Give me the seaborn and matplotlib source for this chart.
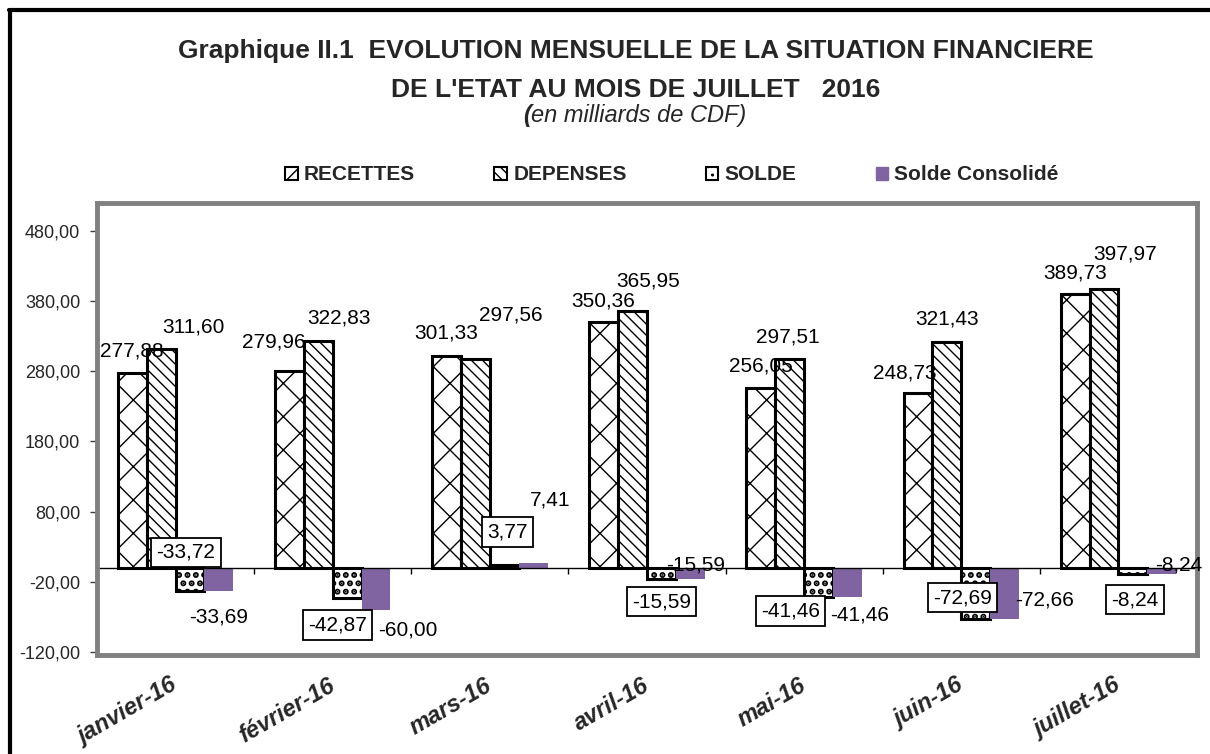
import numpy as np
import pandas as pd
import matplotlib
matplotlib.use("Agg")
import matplotlib.pyplot as plt
import seaborn as sns
from matplotlib.patches import Patch
from matplotlib.lines import Line2D
from matplotlib.font_manager import fontManager

# ---------------- data ----------------
mois = ["janvier-16", "février-16", "mars-16", "avril-16", "mai-16", "juin-16", "juillet-16"]
series = ["RECETTES", "DEPENSES", "SOLDE", "Solde Consolidé"]
recettes = [277.88, 279.96, 301.33, 350.36, 256.05, 248.73, 389.73]
depenses = [311.60, 322.83, 297.56, 365.95, 297.51, 321.43, 397.97]
solde = [-33.72, -42.87, 3.77, -15.59, -41.46, -72.69, -8.24]
solde_consolide = [-33.69, -60.00, 7.41, -15.59, -41.46, -72.66, -8.24]
yticks = [-120, -20, 80, 180, 280, 380, 480]

# label placement (pixel offsets of label centre from bar end)
rec_off = [(0, 22), (-16, 29), (0, 23), (0, 21), (0, 22), (-13, 20), (0, 21)]
dep_off = [(32, 22), (21, 23), (35, 44), (16, 30), (-2, 22), (0, 23), (21, 35)]
sol_off = [(-4, 39), (-10, -27), (3, 33), (0, -23), (-28, -14), (-13, 21), (2, -26)]
con_off = [(0, -26), (32, -20), (17, 63), (5, 14), (12, -18), (40, 19), (17, 9)]

values = [recettes, depenses, solde, solde_consolide]
df = pd.DataFrame({
    "mois": np.repeat([mois], len(series), axis=0).ravel(),
    "serie": np.repeat(series, len(mois)),
    "valeur": np.concatenate(values),
})

names = {f.name for f in fontManager.ttflist}
BASE = "Liberation Sans" if "Liberation Sans" in names else "DejaVu Sans"

sns.set_theme(style="white")
plt.rcParams["font.family"] = [BASE, "DejaVu Sans"]
plt.rcParams["hatch.linewidth"] = 1.0

W, H = 1210, 754
fig = plt.figure(figsize=(W / 100, H / 100), dpi=100)
ax = fig.add_axes([97 / W, 1 - 655 / H, 1100 / W, 452 / H])

PURPLE = "#8064A2"
sns.barplot(data=df, x="mois", y="valeur", hue="serie", order=mois, hue_order=series,
            palette=["white", "white", "white", PURPLE], saturation=1, width=0.735,
            edgecolor="black", linewidth=2.2, legend=False, ax=ax)

hatches = ["x", "\\\\\\", "..", None]
for cont, h in zip(ax.containers, hatches):
    for p in cont:
        if h:
            p.set_hatch(h)
            if h == "..":
                try:
                    p.set_hatch_linewidth(3.0)
                except AttributeError:
                    pass
        else:
            p.set_edgecolor(PURPLE)
            p.set_linewidth(0)

ax.set_ylim(-124.3, 519.9)
ax.set_xlim(-0.5, len(mois) - 0.5)
ax.set_yticks(yticks)
ax.set_yticklabels([f"{v:.2f}".replace(".", ",") for v in yticks], fontsize=13)
ax.set_xlabel("")
ax.set_ylabel("")
ax.tick_params(axis="y", left=True, length=5, width=1, color="#404040", pad=7)
ax.set_xticks(range(len(mois)))
ax.set_xticklabels(mois, rotation=30, ha="right", va="center", rotation_mode="anchor",
                   fontsize=17, fontweight="bold", fontstyle="italic")
ax.tick_params(axis="x", length=0, pad=21)

for s in ax.spines.values():
    s.set_color("#808080")
    s.set_linewidth(3.5)

ax.axhline(0, color="black", lw=1, zorder=1)
ax.vlines(np.arange(1, len(mois)) - 0.5, -9, 0, color="black", lw=1)

PX = 0.72


def fmt(v):
    return f"{v:.2f}".replace(".", ",")


offs = [rec_off, dep_off, sol_off, con_off]
for j, (cont, vals, off) in enumerate(zip(ax.containers, values, offs)):
    for p, v, (dx, dy) in zip(cont, vals, off):
        xc = p.get_x() + p.get_width() / 2
        kw = dict(textcoords="offset points", ha="center", va="center", fontsize=15,
                  color="black", zorder=6)
        if j == 2:
            kw["bbox"] = dict(boxstyle="square,pad=0.25", fc="white", ec="black", lw=1.3)
        ax.annotate(fmt(v), xy=(xc, v), xytext=(dx * PX, dy * PX), **kw)

# legend
handles = [Patch(facecolor="white", edgecolor="black", hatch=hatches[0], lw=1.5),
           Patch(facecolor="white", edgecolor="black", hatch=hatches[1], lw=1.5),
           Patch(facecolor="white", edgecolor="black", hatch=hatches[2], lw=1.5),
           Patch(facecolor=PURPLE, edgecolor=PURPLE)]
fig.legend(handles, series, loc="center", bbox_to_anchor=(672 / W, 1 - 175 / H), ncol=4,
           frameon=False, prop=dict(family=BASE, weight="bold", size=15),
           handlelength=0.6, handleheight=0.6, handletextpad=0.3, columnspacing=3.8)

# titles
fig.text(636 / W, 1 - 58 / H, "Graphique II.1  EVOLUTION MENSUELLE DE LA SITUATION FINANCIERE",
         ha="center", va="baseline", fontsize=19, fontweight="bold")
fig.text(636 / W, 1 - 97 / H, "DE L'ETAT AU MOIS DE JUILLET   2016",
         ha="center", va="baseline", fontsize=19, fontweight="bold")
fig.text(523 / W, 1 - 122 / H, "(", ha="left", va="baseline", fontsize=17,
         fontweight="bold", fontstyle="italic")
fig.text(531 / W, 1 - 122 / H, "en milliards de CDF)", ha="left", va="baseline", fontsize=17,
         fontstyle="italic")

# outer frame (top and left edges)
fig.add_artist(Line2D([9 / W, 1], [1 - 10 / H, 1 - 10 / H], color="black", lw=3,
                      transform=fig.transFigure))
fig.add_artist(Line2D([9.5 / W, 9.5 / W], [0, 1 - 10 / H], color="black", lw=3,
                      transform=fig.transFigure))

fig.savefig("out.png", dpi=100)
